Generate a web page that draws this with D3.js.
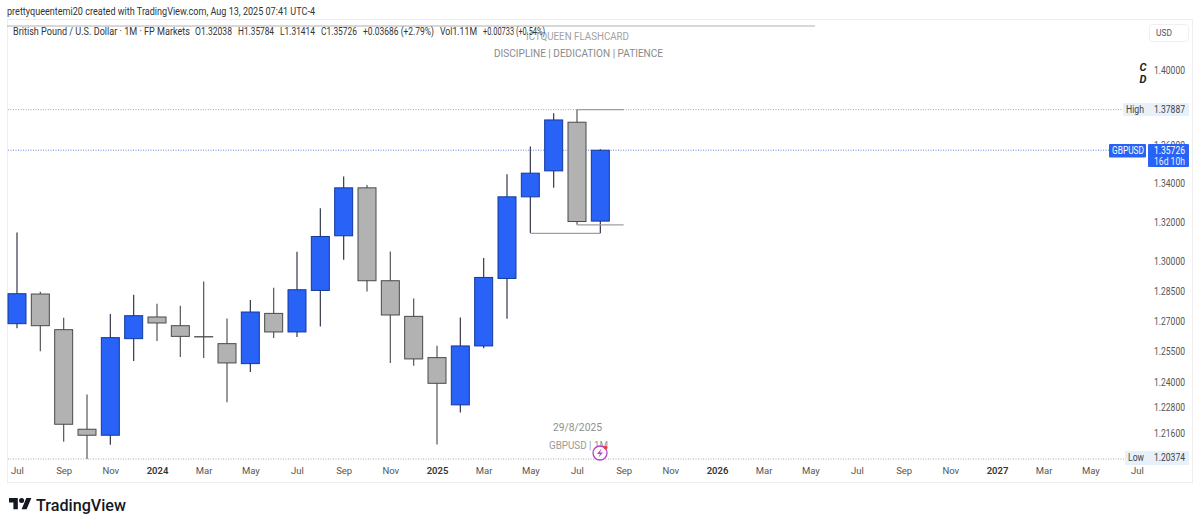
<!DOCTYPE html>
<html>
<head>
<meta charset="utf-8">
<script src="https://cdn.jsdelivr.net/npm/d3@7/dist/d3.min.js"></script>
<style>
  html, body { margin: 0; padding: 0; background: #fff; }
  svg { display: block; font-family: Roboto, "Liberation Sans", sans-serif; }
</style>
</head>
<body>
<svg id="chart" width="1200" height="527"></svg>
<script>
// GBP/USD monthly candles, Jul 2023 to Aug 2025
const months = ["2023-07","2023-08","2023-09","2023-10","2023-11","2023-12",
  "2024-01","2024-02","2024-03","2024-04","2024-05","2024-06","2024-07","2024-08","2024-09","2024-10","2024-11","2024-12",
  "2025-01","2025-02","2025-03","2025-04","2025-05","2025-06","2025-07","2025-08"];
const opens = [1.26876,1.28348,1.26581,1.21775,1.21491,1.26140,
  1.27207,1.26777,1.26238,1.25895,1.24921,1.27385,1.26469,1.28527,1.31286,1.33757,1.29013,1.27238,
  1.25213,1.22934,1.25783,1.29128,1.33290,1.34642,1.37213,1.32038];
const highs = [1.31455,1.28464,1.27172,1.23427,1.27355,1.28313,
  1.27865,1.27765,1.28978,1.27138,1.28050,1.28663,1.30474,1.32706,1.34344,1.33911,1.30488,1.28129,
  1.25797,1.27187,1.30154,1.34470,1.35918,1.37693,1.37887,1.35784];
const lows = [1.26645,1.25520,1.21181,1.20374,1.21040,1.25052,
  1.26028,1.25247,1.25198,1.23057,1.24519,1.26174,1.26224,1.26743,1.30068,1.28478,1.24955,1.24824,
  1.21054,1.22567,1.25665,1.27123,1.31425,1.33757,1.31849,1.31414];
const closes = [1.28363,1.26777,1.22011,1.21491,1.26189,1.27271,
  1.26911,1.26252,1.26224,1.24955,1.27453,1.26469,1.28562,1.31251,1.33757,1.29013,1.27306,1.25150,
  1.23969,1.25783,1.29178,1.33290,1.34522,1.37334,1.32017,1.35726];

// Price axis and time axis labels
const priceTicks = [1.40,1.36,1.34,1.32,1.30,1.285,1.27,1.255,1.24,1.228,1.216];
const timeLabels = ["Jul","Sep","Nov","2024","Mar","May","Jul","Sep","Nov","2025","Mar","May","Jul","Sep","Nov","2026","Mar","May","Jul","Sep","Nov","2027","Mar","May","Jul"];
const highPrice = 1.37887, lowPrice = 1.20374, lastPrice = 1.35726;

const upFill = "#2962f6", upEdge = "#123a9c", downFill = "#b2b2b2", downEdge = "#4a4a4a";
const frameLeft = 7, frameRight = 1192, frameTop = 19, frameBottom = 482, barWidth = 18;

const svg = d3.select("#chart");
const x = d3.scaleLinear().domain([0, 48]).range([17, 1137]);
const y = d3.scaleLog().domain([lowPrice, 1.40]).range([459, 70.5]);

// Frame around the pane
svg.append("rect").attr("x", frameLeft + .5).attr("y", frameTop + .5)
  .attr("width", frameRight - frameLeft).attr("height", frameBottom - frameTop)
  .attr("fill", "none").attr("stroke", "#eeeeee");
svg.append("line").attr("x1", frameLeft).attr("x2", 815).attr("y1", 26).attr("y2", 26)
  .attr("stroke", "#b0b0b0").attr("stroke-width", 1);

// Squeezed text helper: fixes the drawn width of a label
function label(txt, px, py, size, width, fill, weight, anchor) {
  const t = svg.append("text").attr("x", px).attr("y", py).attr("dy", "0.35em")
    .attr("font-size", size).attr("fill", fill).attr("font-weight", weight || 400)
    .attr("text-anchor", anchor || "start").text(txt);
  if (width) t.attr("textLength", width).attr("lengthAdjust", "spacingAndGlyphs");
  return t;
}

label("prettyqueentemi20 created with TradingView.com, Aug 13, 2025 07:41 UTC-4", 7, 11, 10, 308, "#333");
label("ICTQUEEN FLASHCARD", 526, 36, 10.5, 103, "#a2a2a2");
label("DISCIPLINE | DEDICATION | PATIENCE", 494, 53, 10.5, 169, "#8a8a8a");

// Symbol legend with its OHLC readout
const legendItems = [
  ["British Pound / U.S. Dollar · 1M · FP Markets", 13, 177],
  ["O1.32038", 195, 37],
  ["H1.35784", 238, 36],
  ["L1.31414", 280, 35],
  ["C1.35726", 321, 36],
  ["+0.03686 (+2.79%)", 363, 71],
  ["Vol1.11M", 440, 37],
  ["+0.00733 (+0.54%)", 483, 62]
];
legendItems.forEach(([txt, px, w]) => label(txt, px, 31, 10, w, "#333"));

// Reference lines at the range high, last price and range low
const refLines = [
  {p: highPrice, to: 1123, c: "#a8a8a8"},
  {p: lastPrice, to: 1109, c: "#6f86e6"},
  {p: lowPrice, to: 1125, c: "#a8a8a8"}
];
svg.append("g").selectAll("line").data(refLines).join("line")
  .attr("x1", frameLeft + 1).attr("x2", d => d.to)
  .attr("y1", d => y(d.p)).attr("y2", d => y(d.p))
  .attr("stroke", d => d.c).attr("stroke-width", 1).attr("stroke-dasharray", "1 1.5");

// Candles
const candles = months.map((m, i) => ({i, open: opens[i], high: highs[i], low: lows[i], close: closes[i]}));
const isUp = d => d.close >= d.open;
const g = svg.append("g");
g.selectAll("line.wick").data(candles).join("line").attr("class", "wick")
  .attr("x1", d => x(d.i)).attr("x2", d => x(d.i))
  .attr("y1", d => y(d.high)).attr("y2", d => y(d.low))
  .attr("stroke", d => isUp(d) ? "#33374a" : "#555").attr("stroke-width", 1.2);
g.selectAll("rect.body").data(candles).join("rect").attr("class", "body")
  .attr("x", d => x(d.i) - barWidth / 2).attr("width", barWidth)
  .attr("y", d => y(Math.max(d.open, d.close)))
  .attr("height", d => Math.abs(y(d.open) - y(d.close)))
  .attr("fill", d => isUp(d) ? upFill : downFill)
  .attr("stroke", d => isUp(d) ? upEdge : downEdge).attr("stroke-width", 1);

// Swing brackets drawn from the wick extremes
const brackets = [
  {from: 24, to: 26, p: highs[24]},
  {from: 24, to: 26, p: lows[24]},
  {from: 22, to: 25, p: lows[25]}
];
svg.append("g").selectAll("line").data(brackets).join("line")
  .attr("x1", d => x(d.from)).attr("x2", d => x(d.to))
  .attr("y1", d => y(d.p)).attr("y2", d => y(d.p))
  .attr("stroke", "#9f9f9f").attr("stroke-width", 1.2);

// Time axis
const timeAxis = d3.axisBottom(x)
  .tickValues(timeLabels.map((_, i) => i * 2))
  .tickFormat((_, i) => timeLabels[i]).tickSize(0).tickPadding(0);
const tg = svg.append("g").attr("transform", "translate(0,467)").call(timeAxis);
tg.select(".domain").remove();
tg.selectAll("text").attr("font-family", "Roboto, sans-serif")
  .attr("font-size", 9.5)
  .attr("fill", (_, i) => /^20/.test(timeLabels[i]) ? "#333" : "#555")
  .attr("font-weight", (_, i) => /^20/.test(timeLabels[i]) ? 600 : 400);

// Price axis
const priceAxis = d3.axisRight(y).tickValues(priceTicks)
  .tickFormat(d3.format(".5f")).tickSize(0).tickPadding(0);
const pg = svg.append("g").attr("transform", "translate(1154,0)").call(priceAxis);
pg.select(".domain").remove();
pg.selectAll("text").attr("font-family", "Roboto, sans-serif").attr("font-size", 10)
  .attr("fill", "#555").attr("textLength", 31).attr("lengthAdjust", "spacingAndGlyphs");

// Currency button
svg.append("rect").attr("x", 1149.5).attr("y", 24.5).attr("width", 39).attr("height", 17)
  .attr("rx", 3).attr("fill", "#fff").attr("stroke", "#efefef");
label("USD", 1156, 33, 9.5, 16, "#555");

// Elliott-style markers beside the axis
label("C", 1143, 67.5, 11, null, "#222", 700, "middle").attr("font-style", "italic");
label("D", 1143, 79.5, 11, null, "#222", 700, "middle").attr("font-style", "italic");

// High, low and last price chips
svg.append("rect").attr("x", 1123).attr("y", y(highPrice) - 6.5).attr("width", 66).attr("height", 13).attr("fill", "#e8f0fa");
label("High", 1126, y(highPrice), 10, 18, "#444");
label("1.37887", 1154, y(highPrice), 10, 31, "#444");

svg.append("rect").attr("x", 1125).attr("y", 451).attr("width", 64).attr("height", 14).attr("fill", "#e8f0fa");
label("Low", 1128, 457, 10, 16, "#444");
label("1.20374", 1154, 457, 10, 31, "#444");

svg.append("rect").attr("x", 1109).attr("y", 144).attr("width", 37).attr("height", 13.5).attr("rx", 1).attr("fill", upFill);
svg.append("rect").attr("x", 1148).attr("y", 144).attr("width", 41).attr("height", 23).attr("rx", 1).attr("fill", upFill);
label("GBPUSD", 1112, y(lastPrice), 10, 32, "#fff");
label("1.35726", 1154, y(lastPrice), 10, 31, "#fff");
label("16d 10h", 1154, 161, 10, 31, "#e6ecff");

// Date stamp and lightning badge
label("29/8/2025", 553, 427, 10.5, 49, "#8f8f8f");
label("GBPUSD | 1M", 549, 445, 10.5, 59, "#999");
svg.append("circle").attr("cx", 600).attr("cy", 453).attr("r", 7)
  .attr("fill", "#fff").attr("stroke", "#b044c4").attr("stroke-width", 1.3);
svg.append("path").attr("d", "M601.5 448.5 L597 454 L600 454 L598.5 457.5 L603 452.5 L600 452.5 Z").attr("fill", "#b044c4");
svg.append("circle").attr("cx", 605.5).attr("cy", 447.5).attr("r", 1.8).attr("fill", "#ea3b4a");

// TradingView mark
const logo = svg.append("g").attr("transform", "translate(9,495.5) scale(0.63)").attr("fill", "#131722");
logo.append("path").attr("d", "M14 22H7V11H0V4h14v18zM28 22h-8l7.5-18h8L28 22z");
logo.append("circle").attr("cx", 20).attr("cy", 8).attr("r", 4);
label("TradingView", 36, 505, 16.5, 90, "#131722", 500);
</script>
</body>
</html>
